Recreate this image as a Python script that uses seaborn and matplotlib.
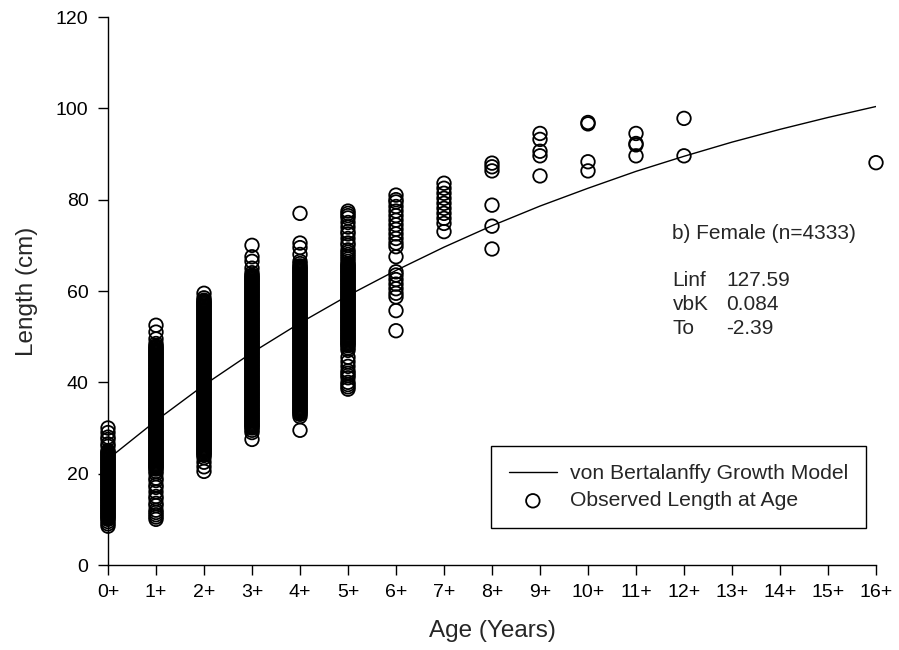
import numpy as np
import pandas as pd
import seaborn as sns
import matplotlib.pyplot as plt

# observed length (cm) at each age class
age_0 = [8.5, 9, 9.5, 10, 10.25, 10.5, 10.75, 11, 11.25, 11.5, 11.75, 12, 12.25,
         12.5, 12.75, 13, 13.25, 13.5, 13.75, 14, 14.25, 14.5, 14.75, 15, 15.25,
         15.5, 15.75, 16, 16.25, 16.5, 16.75, 17, 17.25, 17.5, 17.75, 18, 18.25,
         18.5, 18.75, 19, 19.25, 19.5, 19.75, 20, 20.25, 20.5, 20.75, 21, 21.25,
         21.5, 21.75, 22, 22.25, 22.5, 22.75, 23, 23.25, 23.5, 23.75, 24, 24.25,
         24.5, 24.75, 25, 26, 26.5, 27.5, 28, 29, 30]
age_1 = [10, 10.5, 11, 11.5, 12, 13, 13.5, 14.5, 15, 16, 17, 17.5, 18.5, 19, 20,
         20.5, 21, 21.25, 21.5, 21.75, 22, 22.25, 22.5, 22.75, 23, 23.25, 23.5,
         23.75, 24, 24.25, 24.5, 24.75, 25, 25.25, 25.5, 25.75, 26, 26.25, 26.5,
         26.75, 27, 27.25, 27.5, 27.75, 28, 28.25, 28.5, 28.75, 29, 29.25, 29.5,
         29.75, 30, 30.25, 30.5, 30.75, 31, 31.25, 31.5, 31.75, 32, 32.25, 32.5,
         32.75, 33, 33.25, 33.5, 33.75, 34, 34.25, 34.5, 34.75, 35, 35.25, 35.5,
         35.75, 36, 36.25, 36.5, 36.75, 37, 37.25, 37.5, 37.75, 38, 38.25, 38.5,
         38.75, 39, 39.25, 39.5, 39.75, 40, 40.25, 40.5, 40.75, 41, 41.25, 41.5,
         41.75, 42, 42.25, 42.5, 42.75, 43, 43.25, 43.5, 43.75, 44, 44.25, 44.5,
         44.75, 45, 45.25, 45.5, 45.75, 46, 46.25, 46.5, 46.75, 47, 47.25, 47.5,
         47.75, 48, 48.5, 49.5, 51, 52.5]
age_2 = [20.5, 21.5, 22.5, 23.5, 24, 24.25, 24.5, 24.75, 25, 25.25, 25.5, 25.75, 26,
         26.25, 26.5, 26.75, 27, 27.25, 27.5, 27.75, 28, 28.25, 28.5, 28.75, 29,
         29.25, 29.5, 29.75, 30, 30.25, 30.5, 30.75, 31, 31.25, 31.5, 31.75, 32,
         32.25, 32.5, 32.75, 33, 33.25, 33.5, 33.75, 34, 34.25, 34.5, 34.75, 35,
         35.25, 35.5, 35.75, 36, 36.25, 36.5, 36.75, 37, 37.25, 37.5, 37.75, 38,
         38.25, 38.5, 38.75, 39, 39.25, 39.5, 39.75, 40, 40.25, 40.5, 40.75, 41,
         41.25, 41.5, 41.75, 42, 42.25, 42.5, 42.75, 43, 43.25, 43.5, 43.75, 44,
         44.25, 44.5, 44.75, 45, 45.25, 45.5, 45.75, 46, 46.25, 46.5, 46.75, 47,
         47.25, 47.5, 47.75, 48, 48.25, 48.5, 48.75, 49, 49.25, 49.5, 49.75, 50,
         50.25, 50.5, 50.75, 51, 51.25, 51.5, 51.75, 52, 52.25, 52.5, 52.75, 53,
         53.25, 53.5, 53.75, 54, 54.25, 54.5, 54.75, 55, 55.25, 55.5, 55.75, 56,
         56.25, 56.5, 56.75, 57, 57.25, 57.5, 57.75, 58, 58.5, 59.5]
age_3 = [27.5, 29, 29.5, 30, 30.25, 30.5, 30.75, 31, 31.25, 31.5, 31.75, 32, 32.25,
         32.5, 32.75, 33, 33.25, 33.5, 33.75, 34, 34.25, 34.5, 34.75, 35, 35.25,
         35.5, 35.75, 36, 36.25, 36.5, 36.75, 37, 37.25, 37.5, 37.75, 38, 38.25,
         38.5, 38.75, 39, 39.25, 39.5, 39.75, 40, 40.25, 40.5, 40.75, 41, 41.25,
         41.5, 41.75, 42, 42.25, 42.5, 42.75, 43, 43.25, 43.5, 43.75, 44, 44.25,
         44.5, 44.75, 45, 45.25, 45.5, 45.75, 46, 46.25, 46.5, 46.75, 47, 47.25,
         47.5, 47.75, 48, 48.25, 48.5, 48.75, 49, 49.25, 49.5, 49.75, 50, 50.25,
         50.5, 50.75, 51, 51.25, 51.5, 51.75, 52, 52.25, 52.5, 52.75, 53, 53.25,
         53.5, 53.75, 54, 54.25, 54.5, 54.75, 55, 55.25, 55.5, 55.75, 56, 56.25,
         56.5, 56.75, 57, 57.25, 57.5, 57.75, 58, 58.25, 58.5, 58.75, 59, 59.25,
         59.5, 59.75, 60, 60.25, 60.5, 60.75, 61, 61.25, 61.5, 61.75, 62, 62.25,
         62.5, 62.75, 63, 63.25, 63.5, 64, 65, 66.5, 67.5, 70]
age_4 = [29.5, 32.5, 33, 33.25, 33.5, 33.75, 34, 34.25, 34.5, 34.75, 35, 35.25, 35.5,
         35.75, 36, 36.25, 36.5, 36.75, 37, 37.25, 37.5, 37.75, 38, 38.25, 38.5,
         38.75, 39, 39.25, 39.5, 39.75, 40, 40.25, 40.5, 40.75, 41, 41.25, 41.5,
         41.75, 42, 42.25, 42.5, 42.75, 43, 43.25, 43.5, 43.75, 44, 44.25, 44.5,
         44.75, 45, 45.25, 45.5, 45.75, 46, 46.25, 46.5, 46.75, 47, 47.25, 47.5,
         47.75, 48, 48.25, 48.5, 48.75, 49, 49.25, 49.5, 49.75, 50, 50.25, 50.5,
         50.75, 51, 51.25, 51.5, 51.75, 52, 52.25, 52.5, 52.75, 53, 53.25, 53.5,
         53.75, 54, 54.25, 54.5, 54.75, 55, 55.25, 55.5, 55.75, 56, 56.25, 56.5,
         56.75, 57, 57.25, 57.5, 57.75, 58, 58.25, 58.5, 58.75, 59, 59.25, 59.5,
         59.75, 60, 60.25, 60.5, 60.75, 61, 61.25, 61.5, 61.75, 62, 62.25, 62.5,
         62.75, 63, 63.25, 63.5, 63.75, 64, 64.25, 64.5, 64.75, 65, 65.25, 65.5,
         66, 66.5, 68, 69.5, 70.5, 77]
age_5 = [38.5, 39, 39.5, 40, 41, 41.5, 42, 42.5, 43.5, 44.5, 45.5, 47, 47.5, 48,
         48.25, 48.5, 48.75, 49, 49.25, 49.5, 49.75, 50, 50.25, 50.5, 50.75, 51,
         51.25, 51.5, 51.75, 52, 52.25, 52.5, 52.75, 53, 53.25, 53.5, 53.75, 54,
         54.25, 54.5, 54.75, 55, 55.25, 55.5, 55.75, 56, 56.25, 56.5, 56.75, 57,
         57.25, 57.5, 57.75, 58, 58.25, 58.5, 58.75, 59, 59.25, 59.5, 59.75, 60,
         60.25, 60.5, 60.75, 61, 61.25, 61.5, 61.75, 62, 62.25, 62.5, 62.75, 63,
         63.25, 63.5, 63.75, 64, 64.25, 64.5, 64.75, 65, 65.25, 65.5, 65.75, 66,
         66.5, 67, 67.5, 68, 68.5, 69, 70, 70.5, 71.5, 72.5, 73, 74, 75, 76, 76.5,
         77, 77.5]
age_6 = [51.3, 55.7, 58.7, 59.5, 60.5, 61.5, 62.5, 63.5, 64.2, 67.5, 69.7, 70.5, 71.5,
         72.5, 73.5, 74.5, 75.5, 76.5, 77.5, 78.5, 79.5, 80, 81]
age_7 = [73, 74.8, 75.9, 77, 78.1, 79.2, 80.3, 81.4, 82.5, 83.6]
age_8 = [69.2, 74.2, 78.8, 86.3, 87.2, 88.0]
age_9 = [85.2, 89.6, 90.6, 93.2, 94.5]
age_10 = [86.3, 88.3, 96.6, 96.9]
age_11 = [89.6, 92.0, 92.3, 94.5]
age_12 = [89.6, 97.8]
age_16 = [88.1]

observed = {0: age_0, 1: age_1, 2: age_2, 3: age_3, 4: age_4, 5: age_5, 6: age_6,
            7: age_7, 8: age_8, 9: age_9, 10: age_10, 11: age_11, 12: age_12,
            16: age_16}

# fitted von Bertalanffy curve, read at each age
curve_age = list(range(17))
curve_len = [23.2, 31.6, 39.4, 46.5, 53.0, 59.0, 64.5, 69.6, 74.3, 78.6, 82.5,
             86.2, 89.5, 92.6, 95.4, 98.0, 100.4]

tick_labels = [f"{a}+" for a in range(17)]
params = ["Linf", "vbK", "To"]
param_vals = ["127.59", "0.084", "-2.39"]

df = pd.DataFrame([(a, v) for a, vals in observed.items() for v in vals],
                  columns=["age", "length"])
curve = pd.DataFrame({"age": curve_age, "length": curve_len})

sns.set_style("ticks")
plt.rcParams["font.family"] = ["Liberation Sans", "DejaVu Sans"]

fig = plt.figure(figsize=(8.99, 6.5), dpi=100)
ax = fig.add_axes([108 / 899, 85 / 650, 768 / 899, 548 / 650])

sns.lineplot(data=curve, x="age", y="length", color="black", linewidth=1.0,
             label="von Bertalanffy Growth Model", ax=ax)
sns.scatterplot(data=df, x="age", y="length", marker="o", s=95,
                facecolor="none", edgecolor="black", linewidths=1.3,
                clip_on=False, label="Observed Length at Age", ax=ax)

ax.set_xlim(0, 16)
ax.set_ylim(0, 120)
ax.set_xticks(range(17))
ax.set_xticklabels(tick_labels)
ax.set_yticks(range(0, 121, 20))
ax.tick_params(axis="both", direction="out", length=7, width=1, pad=7,
               labelsize=14, colors="black")
for side in ["left", "bottom"]:
    ax.spines[side].set_color("black")
    ax.spines[side].set_linewidth(1)
sns.despine(ax=ax)

ax.set_xlabel("Age (Years)", fontsize=17.5, labelpad=13)
ax.set_ylabel("Length (cm)", fontsize=17.5, labelpad=13)

ax.text(11.76, 72.6, "b) Female (n=4333)", fontsize=15, va="center")
for i, (p, v) in enumerate(zip(params, param_vals)):
    y = 62.4 - i * 5.3
    ax.text(11.76, y, p, fontsize=15, va="center")
    ax.text(12.875, y, v, fontsize=15, va="center")

leg = ax.legend(loc="lower right", bbox_to_anchor=(0.987, 0.067),
                borderaxespad=0, fontsize=15.2, frameon=True, fancybox=False,
                framealpha=1, edgecolor="black", handlelength=2.3,
                handletextpad=0.6, borderpad=0.85, labelspacing=0.4,
                scatterpoints=1)
leg.get_frame().set_linewidth(1)

plt.savefig("out.png", dpi=100)
